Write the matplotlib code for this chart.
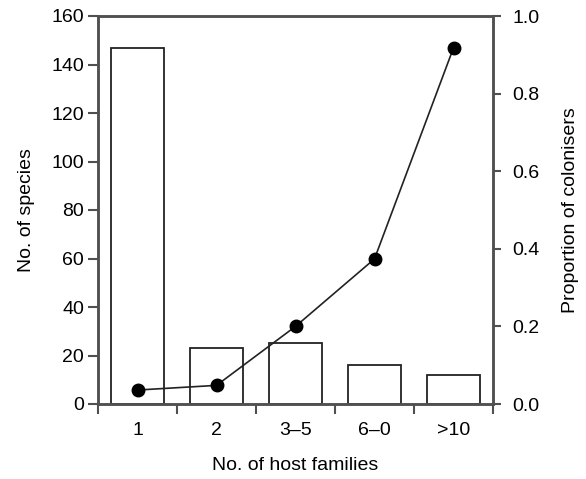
import matplotlib
matplotlib.use("Agg")
import matplotlib.pyplot as plt
import numpy as np

categories = ["1", "2", "3\u20135", "6\u20130", ">10"]
species_counts = [147, 23, 25, 16, 12]
proportion_colonisers = [0.036, 0.048, 0.20, 0.374, 0.918]

plt.rcParams['font.family'] = ['Liberation Sans', 'DejaVu Sans']

fig = plt.figure(figsize=(5.86, 4.79), dpi=100)
ax = fig.add_axes([98/586, 1 - 404/479, (493-98)/586, (404-16)/479])
x = np.arange(1, len(categories) + 1)

spine_col = '#505050'
fs = 14
ax.bar(x, species_counts, width=0.67, facecolor='white', edgecolor='#222222', linewidth=1.3, zorder=2)
ax.set_xlim(0.5, 5.5)
ax.set_ylim(0, 160)
ax.set_yticks(np.arange(0, 161, 20))
ax.set_xticks(np.arange(0.5, 5.6, 1.0))
ax.set_xticklabels([])
ax.set_xticks(x, minor=True)
ax.set_xticklabels(categories, minor=True)
ax.tick_params(axis='x', which='minor', length=0, pad=13, labelsize=fs)
ax.tick_params(axis='x', which='major', length=7, width=1.5, color=spine_col, direction='out')
ax.tick_params(axis='y', length=7, width=1.5, color=spine_col, labelsize=fs, pad=3)
for s in ax.spines.values():
    s.set_color(spine_col)
    s.set_linewidth(1.8)
ax.set_xlabel("No. of host families", fontsize=fs, labelpad=13)
ax.set_ylabel("No. of species", fontsize=fs, labelpad=12)

ax2 = ax.twinx()
ax2.plot(x, proportion_colonisers, color='#222222', linewidth=1.2, marker='o',
         markersize=9, markerfacecolor='black', markeredgecolor='black', zorder=3)
ax2.set_ylim(0, 1.0)
ax2.set_yticks(np.arange(0, 1.01, 0.2))
ax2.set_yticklabels([f"{v:.1f}" for v in np.arange(0, 1.01, 0.2)])
ax2.tick_params(axis='y', length=6, width=1.5, color=spine_col, labelsize=fs, pad=8)
for s in ax2.spines.values():
    s.set_color(spine_col)
    s.set_linewidth(1.8)
ax2.set_ylabel("Proportion of colonisers", fontsize=fs, labelpad=16)

fig.savefig("out.png", dpi=100, facecolor='white')
